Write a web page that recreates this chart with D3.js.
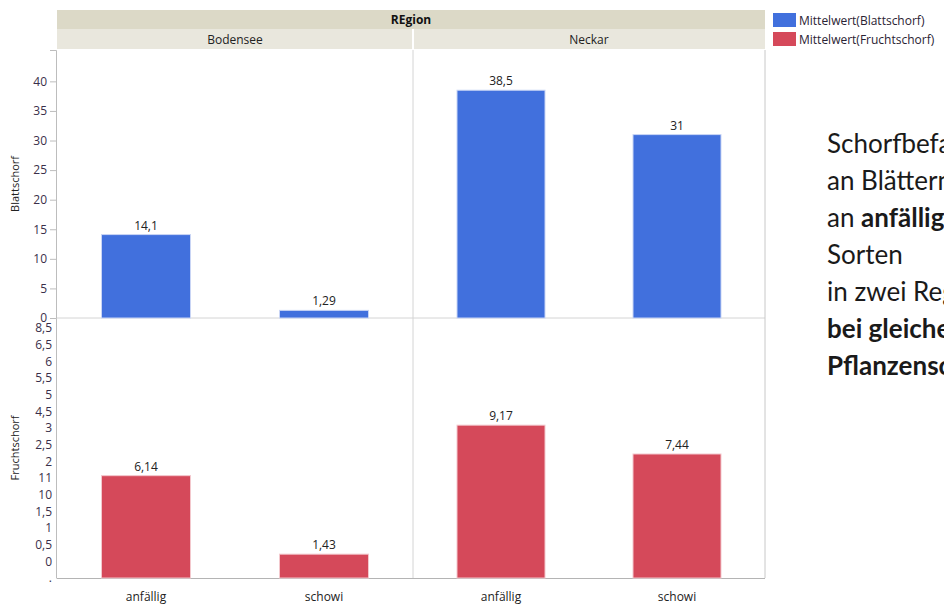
<!DOCTYPE html>
<html>
<head>
<meta charset="utf-8">
<script src="https://cdn.jsdelivr.net/npm/d3@7"></script>
<style>
  body { margin: 0; background: #fff; }
  svg text { font-family: "Open Sans", sans-serif; }
</style>
</head>
<body>
<svg id="chart" width="944" height="604"></svg>
<script>
// Werte aus der Abbildung
const regions = ["Bodensee", "Neckar"];
const sorten = ["anfällig", "schowi"];
const blattBodensee = [14.1, 1.29];
const blattNeckar = [38.5, 31];
const fruchtBodensee = [6.14, 1.43];
const fruchtNeckar = [9.17, 7.44];
const blattTicks = [0, 5, 10, 15, 20, 25, 30, 35, 40];
// Achsenbeschriftung unten (so wie im Original, durcheinander)
const fruchtTicks = [0, 1, 2, 3, 4, 5, 6, 7, 8, 9, 10, 11, 12, 13, 14, 15];
const fruchtTickLabels = [".", "0", "0,5", "1", "1,5", "10", "11", "2", "2,5", "3", "4,5", "5", "5,5", "6", "6,5", "8,5"];
const legendItems = ["Mittelwert(Blattschorf)", "Mittelwert(Fruchtschorf)"];
const sideText = [
  [["Schorfbefall", false]],
  [["an Blättern", false]],
  [["an ", false], ["anfälligen", true]],
  [["Sorten", false]],
  [["in zwei Regionen", false]],
  [["bei gleichem", true]],
  [["Pflanzenschutz", true]]
];

const blue = "#4170dd", red = "#d5495a";
const left = 57, mid = 413, right = 765;
const top0 = 50, split = 318, bottom = 578;

const svg = d3.select("#chart");
const fmt = v => String(v).replace(".", ",");

// Kopfzeilen
svg.append("rect").attr("x", left).attr("y", 10).attr("width", right - left).attr("height", 19).attr("fill", "#dcd9c7");
svg.append("text").attr("x", (left + right) / 2).attr("y", 24).attr("text-anchor", "middle")
  .attr("font-size", 12).attr("font-weight", "bold").attr("fill", "#111").text("REgion");
svg.append("rect").attr("x", left).attr("y", 29).attr("width", right - left).attr("height", 20).attr("fill", "#e9e7dd");
svg.append("line").attr("x1", mid).attr("x2", mid).attr("y1", 29).attr("y2", 49).attr("stroke", "#fff").attr("stroke-width", 2);
regions.forEach((r, i) => {
  svg.append("text").attr("x", i === 0 ? (left + mid) / 2 : (mid + right) / 2).attr("y", 44)
    .attr("text-anchor", "middle").attr("font-size", 12).attr("fill", "#222").text(r);
});

// Skalen
const yBlatt = d3.scaleLinear().domain([0, 45.3]).range([split, top0]);
const yFrucht = d3.scaleLinear().domain([0, 15.6]).range([bottom, split]);
const xPanel = [
  d3.scaleBand().domain(sorten).range([left, mid]).paddingInner(0.5).paddingOuter(0.25),
  d3.scaleBand().domain(sorten).range([mid, right]).paddingInner(0.5).paddingOuter(0.25)
];

// Rahmen
svg.append("line").attr("x1", mid).attr("x2", mid).attr("y1", top0).attr("y2", bottom).attr("stroke", "#d4d4d4");
svg.append("line").attr("x1", left).attr("x2", right).attr("y1", split).attr("y2", split).attr("stroke", "#d4d4d4");
svg.append("line").attr("x1", right).attr("x2", right).attr("y1", top0).attr("y2", bottom).attr("stroke", "#c8c8c8");
svg.append("line").attr("x1", left).attr("x2", right).attr("y1", bottom + 0.5).attr("y2", bottom + 0.5).attr("stroke", "#b4b4b4");

// Achsen
const axTop = svg.append("g").attr("transform", `translate(${left - 1},0)`)
  .call(d3.axisLeft(yBlatt).tickValues(blattTicks).tickSize(6).tickPadding(3).tickFormat(d => d));
const axBot = svg.append("g").attr("transform", `translate(${left - 1},0)`)
  .call(d3.axisLeft(yFrucht).tickValues(fruchtTicks).tickSize(0).tickPadding(4).tickFormat((d, i) => fruchtTickLabels[i]));
[axTop, axBot].forEach(ax => {
  ax.select(".domain").attr("stroke", "#bdbdbd");
  ax.selectAll(".tick line").attr("stroke", "#bdbdbd");
  ax.selectAll(".tick text").attr("font-size", 12).attr("fill", "#3a2f4a").attr("font-family", "Open Sans, sans-serif");
});

svg.append("text").attr("transform", `translate(19,${(top0 + split) / 2}) rotate(-90)`).attr("text-anchor", "middle")
  .attr("font-size", 11).attr("fill", "#222").text("Blattschorf");
svg.append("text").attr("transform", `translate(19,${(split + bottom) / 2}) rotate(-90)`).attr("text-anchor", "middle")
  .attr("font-size", 11).attr("fill", "#222").text("Fruchtschorf");

// Balken
const panels = [
  {vals: blattBodensee, x: xPanel[0], y: yBlatt, base: split, color: blue, stroke: "#c9d5f5"},
  {vals: blattNeckar, x: xPanel[1], y: yBlatt, base: split, color: blue, stroke: "#c9d5f5"},
  {vals: fruchtBodensee, x: xPanel[0], y: yFrucht, base: bottom, color: red, stroke: "#f3c8cd"},
  {vals: fruchtNeckar, x: xPanel[1], y: yFrucht, base: bottom, color: red, stroke: "#f3c8cd"}
];
panels.forEach(p => {
  const g = svg.append("g");
  g.selectAll("rect").data(p.vals).enter().append("rect")
    .attr("x", (d, i) => p.x(sorten[i]))
    .attr("y", d => p.y(d))
    .attr("width", p.x.bandwidth())
    .attr("height", d => p.base - p.y(d))
    .attr("fill", p.color)
    .attr("stroke", p.stroke).attr("stroke-width", 1);
  g.selectAll("text").data(p.vals).enter().append("text")
    .attr("x", (d, i) => p.x(sorten[i]) + p.x.bandwidth() / 2)
    .attr("y", d => p.y(d) - 5)
    .attr("text-anchor", "middle").attr("font-size", 12).attr("fill", "#222")
    .text(d => fmt(d));
});

// x-Beschriftung
xPanel.forEach(x => {
  svg.append("g").selectAll("text").data(sorten).enter().append("text")
    .attr("x", d => x(d) + x.bandwidth() / 2).attr("y", 601)
    .attr("text-anchor", "middle").attr("font-size", 12).attr("fill", "#222").text(d => d);
});

// Legende
const leg = svg.append("g");
legendItems.forEach((t, i) => {
  leg.append("rect").attr("x", 773).attr("y", 13 + i * 19).attr("width", 23).attr("height", 14)
    .attr("fill", i === 0 ? blue : red);
  leg.append("text").attr("x", 799).attr("y", 25 + i * 19).attr("font-size", 12).attr("fill", "#2a2233").text(t);
});

// Textblock rechts (im Original am Bildrand abgeschnitten)
const tb = svg.append("text").attr("x", 827).attr("font-size", 26).attr("fill", "#1a1a1a")
  .style("font-family", "Lato, sans-serif");
sideText.forEach((line, i) => {
  line.forEach((seg, j) => {
    const ts = tb.append("tspan").text(seg[0]).attr("font-weight", seg[1] ? "bold" : "normal");
    if (j === 0) ts.attr("x", 827).attr("y", 153 + i * 37);
  });
});
</script>
</body>
</html>
